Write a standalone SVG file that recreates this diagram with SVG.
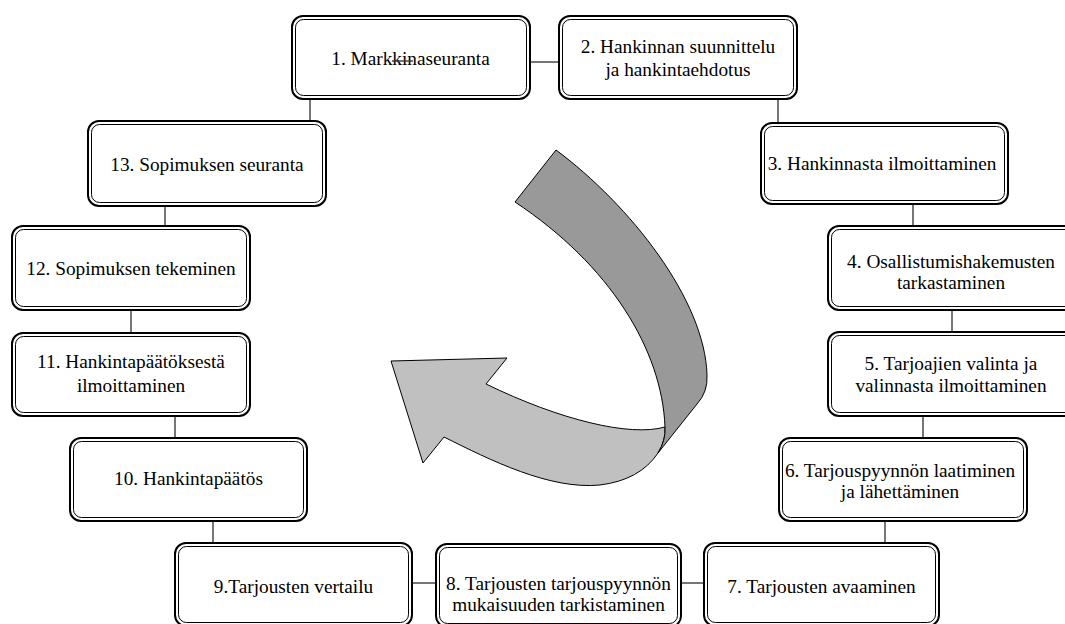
<svg xmlns="http://www.w3.org/2000/svg" width="1065" height="624" viewBox="0 0 1065 624">
  <style>
    .outer { fill: #ffffff; stroke: #000000; stroke-width: 2; }
    .inner { fill: none; stroke: #000000; stroke-width: 1; }
    text { font-family: Liberation Serif, DejaVu Serif, Times New Roman, Times, serif; font-size: 19.3px; fill: #000000; text-anchor: middle; }
    .conn { stroke: #3c3c3c; stroke-width: 1.4; fill: none; }
    .band-dark { fill: #999999; stroke: #000000; stroke-width: 1; stroke-linejoin: round; }
    .band-light { fill: #c0c0c0; stroke: #000000; stroke-width: 1; stroke-linejoin: miter; }
  </style>

  <!-- connectors between the process steps -->
  <g id="connectors">
    <line class="conn" x1="531" y1="62" x2="558" y2="62"/>
    <line class="conn" x1="310" y1="100" x2="310" y2="120"/>
    <line class="conn" x1="778" y1="100" x2="778" y2="122"/>
    <line class="conn" x1="913" y1="205" x2="913" y2="225"/>
    <line class="conn" x1="952" y1="311" x2="952" y2="331"/>
    <line class="conn" x1="923" y1="417" x2="923" y2="437"/>
    <line class="conn" x1="885" y1="522" x2="885" y2="542"/>
    <line class="conn" x1="682" y1="583" x2="703" y2="583"/>
    <line class="conn" x1="413" y1="583" x2="435" y2="583"/>
    <line class="conn" x1="213" y1="522" x2="213" y2="542"/>
    <line class="conn" x1="175" y1="417" x2="175" y2="437"/>
    <line class="conn" x1="131" y1="311" x2="131" y2="332"/>
    <line class="conn" x1="165" y1="207" x2="165" y2="225"/>
  </g>

  <!-- curved ribbon arrow in the middle -->
  <g id="cycle-arrow">
    <path class="band-light" d="M665,427 C630,437 560,420 486,384 L507,358 L391,361 L423,463 L444,437 C490,460 550,490 600,485 Q640,480 658,453 Q666,440 665,427 Z"/>
    <path class="band-dark" d="M556,150 C630,205 705,300 707,375 Q708,392 697,404 L658,453 Q666,440 665,427 C662,350 610,265 515,202 Z"/>
  </g>

  <g id="step1">
    <rect class="outer" x="292" y="16" width="238" height="83" rx="11"/>
    <rect class="inner" x="295.5" y="19.5" width="231" height="76" rx="8"/>
    <text x="410.5" y="65">1. Markkinaseuranta</text>
    <line class="conn" x1="392" y1="61" x2="413" y2="61"/>
  </g>

  <g id="step2">
    <rect class="outer" x="559" y="16" width="238" height="83" rx="11"/>
    <rect class="inner" x="562.5" y="19.5" width="231" height="76" rx="8"/>
    <text x="678" y="53">2. Hankinnan suunnittelu</text>
    <text x="678" y="76">ja hankintaehdotus</text>
  </g>

  <g id="step3">
    <rect class="outer" x="761" y="123" width="247" height="81" rx="11"/>
    <rect class="inner" x="764.5" y="126.5" width="240" height="74" rx="8"/>
    <text x="882" y="170">3. Hankinnasta ilmoittaminen</text>
  </g>

  <g id="step4">
    <rect class="outer" x="828" y="226" width="249" height="84" rx="11"/>
    <rect class="inner" x="831.5" y="229.5" width="242" height="77" rx="8"/>
    <text x="951" y="268">4. Osallistumishakemusten</text>
    <text x="951" y="289">tarkastaminen</text>
  </g>

  <g id="step5">
    <rect class="outer" x="828" y="332" width="249" height="84" rx="11"/>
    <rect class="inner" x="831.5" y="335.5" width="242" height="77" rx="8"/>
    <text x="951" y="370">5. Tarjoajien valinta ja</text>
    <text x="951" y="392">valinnasta ilmoittaminen</text>
  </g>

  <g id="step6">
    <rect class="outer" x="779" y="438" width="248" height="83" rx="11"/>
    <rect class="inner" x="782.5" y="441.5" width="241" height="76" rx="8"/>
    <text x="900" y="477">6. Tarjouspyynnön laatiminen</text>
    <text x="900" y="498">ja lähettäminen</text>
  </g>

  <g id="step7">
    <rect class="outer" x="704" y="543" width="235" height="83" rx="11"/>
    <rect class="inner" x="707.5" y="546.5" width="228" height="76" rx="8"/>
    <text x="821.5" y="593">7. Tarjousten avaaminen</text>
  </g>

  <g id="step8">
    <rect class="outer" x="436" y="544" width="245" height="83" rx="11"/>
    <rect class="inner" x="439.5" y="547.5" width="238" height="76" rx="8"/>
    <text x="558.5" y="590">8. Tarjousten tarjouspyynnön</text>
    <text x="558.5" y="611">mukaisuuden tarkistaminen</text>
  </g>

  <g id="step9">
    <rect class="outer" x="175" y="543" width="237" height="83" rx="11"/>
    <rect class="inner" x="178.5" y="546.5" width="230" height="76" rx="8"/>
    <text x="293.5" y="593">9.Tarjousten vertailu</text>
  </g>

  <g id="step10">
    <rect class="outer" x="70" y="438" width="237" height="83" rx="11"/>
    <rect class="inner" x="73.5" y="441.5" width="230" height="76" rx="8"/>
    <text x="188.5" y="485">10. Hankintapäätös</text>
  </g>

  <g id="step11">
    <rect class="outer" x="12" y="333" width="238" height="83" rx="11"/>
    <rect class="inner" x="15.5" y="336.5" width="231" height="76" rx="8"/>
    <text x="131" y="368">11. Hankintapäätöksestä</text>
    <text x="131" y="392">ilmoittaminen</text>
  </g>

  <g id="step12">
    <rect class="outer" x="12" y="226" width="238" height="84" rx="11"/>
    <rect class="inner" x="15.5" y="229.5" width="231" height="77" rx="8"/>
    <text x="131" y="275">12. Sopimuksen tekeminen</text>
  </g>

  <g id="step13">
    <rect class="outer" x="88" y="121" width="238" height="85" rx="11"/>
    <rect class="inner" x="91.5" y="124.5" width="231" height="78" rx="8"/>
    <text x="207" y="171">13. Sopimuksen seuranta</text>
  </g>
</svg>
